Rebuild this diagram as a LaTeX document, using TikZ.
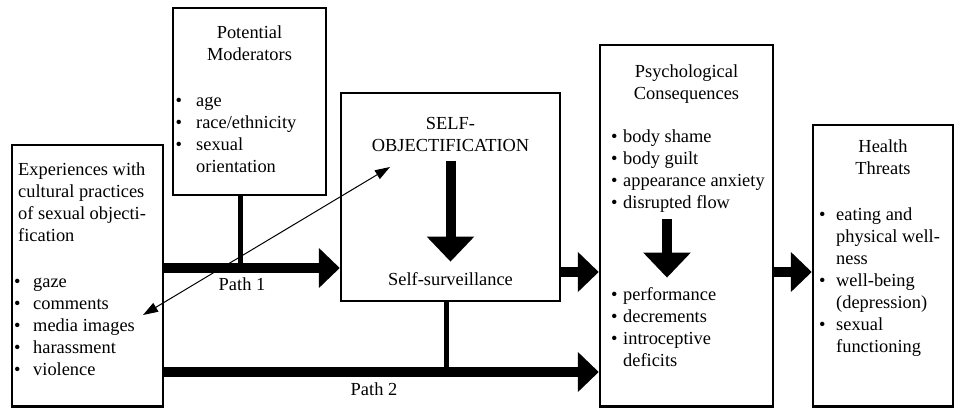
\documentclass[tikz,border=0pt]{standalone}
\usepackage{fontspec}
\setmainfont{Liberation Serif}
\usetikzlibrary{arrows.meta}

\newcommand{\blt}[1][19pt]{\makebox[#1][l]{\textbullet}}

\tikzset{
  box/.style={draw, line width=2.5pt, inner sep=0pt},
  txt/.style={inner sep=0pt, font=\fontsize{18.4}{22}\selectfont},
  thickline/.style={line width=5pt},
  patharrow/.style={line width=10pt, -{Triangle[width=39pt,length=21pt]}},
  downarrow/.style={line width=10pt, -{Triangle[width=46pt,length=25pt]}},
  thinarrow/.style={line width=1pt, {Triangle[width=10pt,length=15pt]}-{Triangle[width=10pt,length=15pt]}}
}

\begin{document}
\begin{tikzpicture}[x=1pt,y=-1pt]
\useasboundingbox (0,0) rectangle (955,408);

% boxes
\node[box, minimum width=151pt, minimum height=261.5pt] (exper) at (87.5,275.75) {};
\node[box, minimum width=153pt, minimum height=187pt] (moder) at (249.5,101.5) {};
\node[box, minimum width=219pt, minimum height=208pt] (selfobj) at (450.5,197) {};
\node[box, minimum width=173pt, minimum height=361.5pt] (psych) at (686.5,225.75) {};
\node[box, minimum width=140pt, minimum height=281.5pt] (health) at (883,265.75) {};

% texts
\node[txt, anchor=north west, align=left] (expertitle) at (18,159.6)
  {\strut Experiences with\\cultural practices\\of sexual objecti-\\fication};
\node[txt, anchor=north west, align=left] (experlist) at (14,271.6)
  {\strut\blt gaze\\\blt comments\\\blt media images\\\blt harassment\\\blt violence};

\node[txt, anchor=north, align=center] (modertitle) at (249.5,22.6)
  {\strut Potential\\Moderators};
\node[txt, anchor=north west, align=left] (moderlist) at (175.5,90.6)
  {\strut\blt[20.5pt]age\\\blt[20.5pt]race/ethnicity\\\blt[20.5pt]sexual\\\hspace*{20.5pt}orientation};

\node[txt, anchor=north, align=center] (selftitle) at (450.5,113.6)
  {\strut SELF-\\OBJECTIFICATION};
\node[txt, anchor=north] (surv) at (450.5,269.6) {\strut Self-surveillance};

\node[txt, anchor=north, align=center] (psychtitle) at (686.5,61.6)
  {\strut Psychological\\Consequences};
\node[txt, anchor=north west, align=left] (psychA) at (611,126.6)
  {\strut\blt[12pt]body shame\\\blt[12pt]body guilt\\\blt[12pt]appearance anxiety\\\blt[12pt]disrupted flow};
\node[txt, anchor=north west, align=left] (psychB) at (611,284.6)
  {\strut\blt[12pt]performance\\\blt[12pt]decrements\\\blt[12pt]introceptive\\\hspace*{12pt}deficits};

\node[txt, anchor=north, align=center] (healthtitle) at (883,136.6)
  {\strut Health\\Threats};
\node[txt, anchor=north west, align=left] (healthlist) at (819,204.6)
  {\strut\blt[17pt]eating and\\\hspace*{17pt}physical well-\\\hspace*{17pt}ness\\\blt[17pt]well-being\\\hspace*{17pt}(depression)\\\blt[17pt]sexual\\\hspace*{17pt}functioning};

\node[txt, anchor=base] (pathone) at (242,290) {Path 1};
\node[txt, anchor=base] (pathtwo) at (374,395) {Path 2};

% joints and columns
\coordinate (modjoin) at (240,268);
\coordinate (survjoin) at (446,372);
\coordinate (flowrow) at (0,272);
\coordinate (psychcol) at (667,0);
\coordinate (thinA) at (143,315);
\coordinate (thinB) at (390,167);

% Path 1 and Path 2
\draw[patharrow] (exper.east |- modjoin) -- (selfobj.west |- modjoin);
\draw[thickline] (moder.south -| modjoin) -- (modjoin);
\draw[patharrow] (exper.east |- survjoin) -- (psych.west |- survjoin);
\draw[thickline] (selfobj.south -| survjoin) -- (survjoin);

% box to box
\draw[patharrow] (selfobj.east |- flowrow) -- (psych.west |- flowrow);
\draw[patharrow] (psych.east |- flowrow) -- (health.west |- flowrow);

% inside the boxes
\draw[downarrow, shorten <=9pt, shorten >=8pt] (selftitle.south) -- (surv.north);
\draw[downarrow, shorten <=7pt, shorten >=7pt] (psychA.south -| psychcol) -- (psychB.north -| psychcol);

% thin arrow
\draw[thinarrow] (thinA) -- (thinB);

\end{tikzpicture}
\end{document}
